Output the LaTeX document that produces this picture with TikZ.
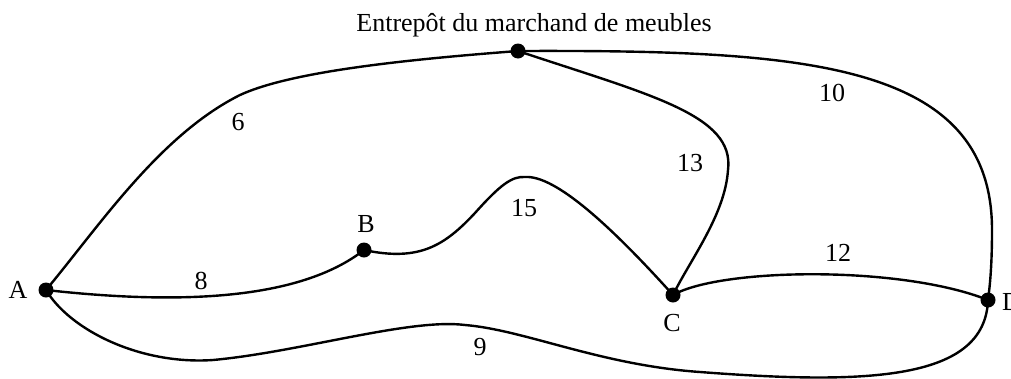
\documentclass[tikz,border=0pt]{standalone}
\usepackage{fontspec}
\setmainfont{Liberation Serif}
\begin{document}
\begin{tikzpicture}[x=1pt,y=-1pt,
  dot/.style={circle,fill=black,inner sep=0pt,minimum size=15pt},
  road/.style={line width=2.4pt},
  lbl/.style={font=\fontsize{26}{30}\selectfont,inner sep=0pt}]
\useasboundingbox (0,0) rectangle (1011,378);
\node[dot] (W) at (518,51) {};
\node[dot] (A) at (46,290) {};
\node[dot] (B) at (364,250) {};
\node[dot] (C) at (673,295) {};
\node[dot] (D) at (988,300) {};
\node[lbl] (tW) at (534,25) {Entrepôt du marchand de meubles};
\node[lbl] (tA) at (18,290) {A};
\node[lbl] (tB) at (366,224) {B};
\node[lbl] (tC) at (672,323) {C};
\node[lbl,anchor=west] (tD) at (1002,302) {D};
\node[lbl] (l6) at (238,122) {6};
\node[lbl] (l10) at (832,93) {10};
\node[lbl] (l13) at (690,163) {13};
\node[lbl] (l15) at (524,208) {15};
\node[lbl] (l8) at (201,281) {8};
\node[lbl] (l12) at (838,253) {12};
\node[lbl] (l9) at (480,347) {9};
\draw[road] (A.center) .. controls (100,225) and (160,135) .. (240,95) .. controls (290,72) and (400,60) .. (W.center);
\draw[road] (W.center) .. controls (800,50) and (992,60) .. (992,230) .. controls (992,265) and (990,285) .. (D.center);
\draw[road] (W.center) .. controls (650,95) and (735,115) .. (728,170) .. controls (725,215) and (690,260) .. (C.center);
\draw[road] (A.center) .. controls (180,305) and (300,300) .. (B.center);
\draw[road] (B.center) .. controls (420,262) and (445,245) .. (475,213) .. controls (500,185) and (512,176) .. (525,177) .. controls (555,175) and (610,225) .. (C.center);
\draw[road] (C.center) .. controls (720,268) and (900,265) .. (D.center);
\draw[road] (A.center) .. controls (70,330) and (140,365) .. (213,360) .. controls (300,352) and (410,318) .. (465,325) .. controls (525,330) and (600,365) .. (700,372) .. controls (870,385) and (985,380) .. (D.center);
\end{tikzpicture}
\end{document}
